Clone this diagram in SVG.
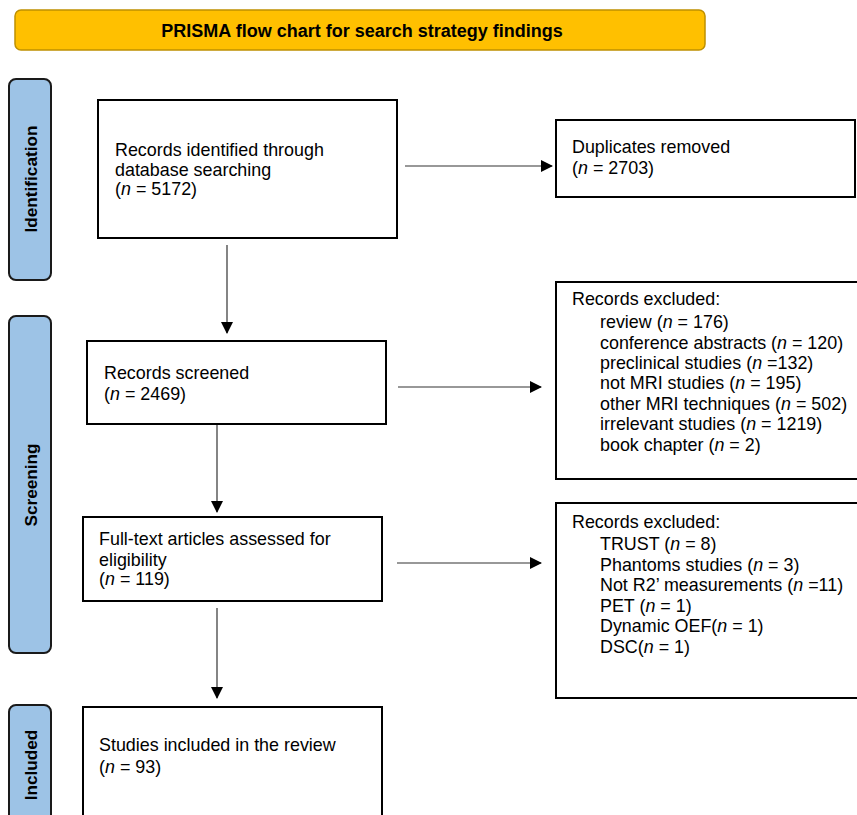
<svg xmlns="http://www.w3.org/2000/svg" width="857" height="815" viewBox="0 0 857 815">
<style>
.t{font-family:"Liberation Sans",Arial,Helvetica,sans-serif;font-size:17.9px;fill:#000}
.i{font-style:italic}
.title{font-family:"Liberation Sans",Arial,sans-serif;font-size:18px;font-weight:bold;fill:#000}
.side{font-family:"Liberation Sans",Arial,sans-serif;font-size:17.2px;font-weight:bold;fill:#000}
.box{fill:#fff;stroke:#000;stroke-width:2}
.sb{fill:#9DC3E6;stroke:#1a1a1a;stroke-width:2}
.c{stroke:#333;stroke-width:1.2;fill:none}
</style>
<defs>
<marker id="ah" markerWidth="12" markerHeight="12" refX="11" refY="6" orient="auto" markerUnits="userSpaceOnUse">
<path d="M0,0 L12,6 L0,12 Z" fill="#000"/>
</marker>
</defs>
<rect width="857" height="815" fill="#fff"/>
<g id="title">
<rect x="15" y="10" width="690" height="40" rx="6" fill="#FFC000" stroke="#BF9000" stroke-width="1.5"/>
<text class="title" x="362" y="37" text-anchor="middle">PRISMA flow chart for search strategy findings</text>
</g>
<g id="side-identification">
<rect class="sb" x="9" y="79" width="42" height="201" rx="7"/>
<text class="side" transform="translate(37,179) rotate(-90)" text-anchor="middle">Identification</text>
</g>
<g id="side-screening">
<rect class="sb" x="9" y="316" width="42" height="337" rx="7"/>
<text class="side" transform="translate(37,485) rotate(-90)" text-anchor="middle">Screening</text>
</g>
<g id="side-included">
<rect class="sb" x="9" y="705" width="42" height="130" rx="7"/>
<text class="side" transform="translate(37,765) rotate(-90)" text-anchor="middle">Included</text>
</g>
<g id="connectors">
<line class="c" x1="405" y1="166" x2="552" y2="166" marker-end="url(#ah)"/>
<line class="c" x1="227" y1="245" x2="227" y2="333" marker-end="url(#ah)"/>
<line class="c" x1="398" y1="387" x2="541" y2="387" marker-end="url(#ah)"/>
<line class="c" x1="217" y1="424" x2="217" y2="512" marker-end="url(#ah)"/>
<line class="c" x1="397" y1="563" x2="541" y2="563" marker-end="url(#ah)"/>
<line class="c" x1="217" y1="608" x2="217" y2="698" marker-end="url(#ah)"/>
</g>
<g id="n-identified">
<rect class="box" x="98" y="100" width="299" height="138"/>
<text class="t" x="115" y="156">Records identified through</text>
<text class="t" x="115" y="176">database searching</text>
<text class="t" x="115" y="195">(<tspan class="i">n</tspan> = 5172)</text>
</g>
<g id="n-duplicates">
<rect class="box" x="556" y="120" width="299" height="77"/>
<text class="t" x="572" y="153">Duplicates removed</text>
<text class="t" x="572" y="174">(<tspan class="i">n</tspan> = 2703)</text>
</g>
<g id="n-screened">
<rect class="box" x="87" y="341" width="299" height="83"/>
<text class="t" x="104" y="379">Records screened</text>
<text class="t" x="104" y="400">(<tspan class="i">n</tspan> = 2469)</text>
</g>
<g id="n-excluded1">
<rect class="box" x="556" y="282" width="320" height="197"/>
<text class="t" x="572" y="305">Records excluded:</text>
<text class="t" x="600" y="328">review (<tspan class="i">n</tspan> = 176)</text>
<text class="t" x="600" y="349">conference abstracts (<tspan class="i">n</tspan> = 120)</text>
<text class="t" x="600" y="369">preclinical studies (<tspan class="i">n</tspan> =132)</text>
<text class="t" x="600" y="389">not MRI studies (<tspan class="i">n</tspan> = 195)</text>
<text class="t" x="600" y="410">other MRI techniques (<tspan class="i">n</tspan> = 502)</text>
<text class="t" x="600" y="430">irrelevant studies (<tspan class="i">n</tspan> = 1219)</text>
<text class="t" x="600" y="451">book chapter (<tspan class="i">n</tspan> = 2)</text>
</g>
<g id="n-fulltext">
<rect class="box" x="83" y="517" width="299" height="84"/>
<text class="t" x="99" y="545">Full-text articles assessed for</text>
<text class="t" x="99" y="566">eligibility</text>
<text class="t" x="99" y="585">(<tspan class="i">n</tspan> = 119)</text>
</g>
<g id="n-excluded2">
<rect class="box" x="556" y="503" width="320" height="195"/>
<text class="t" x="572" y="528">Records excluded:</text>
<text class="t" x="600" y="550">TRUST (<tspan class="i">n</tspan> = 8)</text>
<text class="t" x="600" y="571">Phantoms studies (<tspan class="i">n</tspan> = 3)</text>
<text class="t" x="600" y="591">Not R2’ measurements (<tspan class="i">n</tspan> =11)</text>
<text class="t" x="600" y="612">PET (<tspan class="i">n</tspan> = 1)</text>
<text class="t" x="600" y="632">Dynamic OEF(<tspan class="i">n</tspan> = 1)</text>
<text class="t" x="600" y="653">DSC(<tspan class="i">n</tspan> = 1)</text>
</g>
<g id="n-included">
<rect class="box" x="83" y="707" width="299" height="130"/>
<text class="t" x="99" y="751">Studies included in the review</text>
<text class="t" x="99" y="773">(<tspan class="i">n</tspan> = 93)</text>
</g>
</svg>
